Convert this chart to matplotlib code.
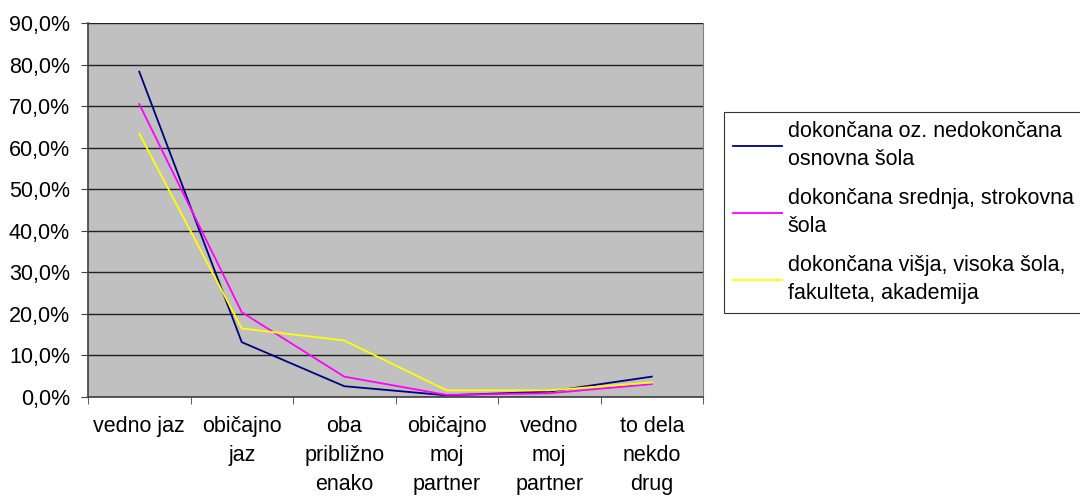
import matplotlib
matplotlib.use("Agg")
import matplotlib.pyplot as plt
from matplotlib.ticker import FixedLocator, FuncFormatter

plt.rcParams['font.family'] = ['Liberation Sans', 'DejaVu Sans']

categories = ["vedno jaz", "običajno\njaz", "oba\npribližno\nenako",
              "običajno\nmoj\npartner", "vedno\nmoj\npartner", "to dela\nnekdo\ndrug"]
series_names = ["dokončana oz. nedokončana\nosnovna šola",
                "dokončana srednja, strokovna\nšola",
                "dokončana višja, visoka šola,\nfakulteta, akademija"]
osnovna = [78.3, 13.2, 2.6, 0.4, 1.3, 4.9]
srednja = [70.5, 20.4, 4.9, 0.5, 0.9, 3.1]
visoka = [63.4, 16.5, 13.6, 1.6, 1.6, 3.5]
colors = ["#000080", "#FF00FF", "#FFFF00"]

fig = plt.figure(figsize=(10.8, 4.97), dpi=100)
ax = fig.add_axes([88/1080, 1-397/497, (703-88)/1080, (397-23)/497])
ax.set_facecolor("#C0C0C0")

x = list(range(len(categories)))
for vals, c, n in zip([osnovna, srednja, visoka], colors, series_names):
    ax.plot(x, vals, color=c, lw=1.3, label=n, solid_joinstyle='miter')

ax.set_xlim(-0.5, len(categories) - 0.5)
ax.set_ylim(0, 90)
ax.set_yticks(range(0, 91, 10))
ax.yaxis.set_major_formatter(FuncFormatter(lambda v, p: f"{v:.1f}%".replace('.', ',')))
ax.grid(axis='y', color='#202020', lw=1.0)
ax.set_axisbelow(True)

ax.set_xticks(x)
ax.set_xticklabels(categories, fontsize=15.5, linespacing=1.5, va='top')
ax.xaxis.set_minor_locator(FixedLocator([i - 0.5 for i in range(len(categories) + 1)]))
ax.tick_params(axis='x', which='major', length=0, pad=14)
ax.tick_params(axis='x', which='minor', length=5, direction='out', color='#404040')
ax.tick_params(axis='y', length=5, direction='out', labelsize=15.5, color='#404040', pad=8)

for s in ['left', 'bottom']:
    ax.spines[s].set_color('#404040')
    ax.spines[s].set_linewidth(1.2)
ax.spines['top'].set_visible(False)
ax.spines['right'].set_color('#808080')

leg = fig.legend(loc='upper left', bbox_to_anchor=(724/1080, 1-112/497),
                 fontsize=15.5, frameon=True, fancybox=False, edgecolor='black',
                 handlelength=2.3, handletextpad=0.25, labelspacing=0.83,
                 borderpad=0.4, borderaxespad=0)
leg.get_frame().set_linewidth(0.8)
for t in leg.get_texts():
    t.set_linespacing(1.45)

fig.savefig("out.png", dpi=100)
